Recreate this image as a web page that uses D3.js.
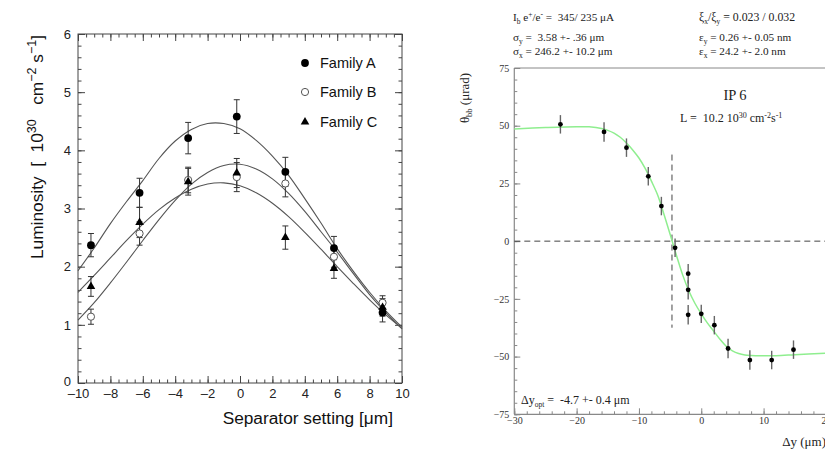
<!DOCTYPE html>
<html>
<head>
<meta charset="utf-8">
<script src="https://cdn.jsdelivr.net/npm/d3@7"></script>
<style>
  body { margin: 0; background: #fff; }
  svg { display: block; }
</style>
</head>
<body>
<div id="chart"></div>
<script>
// Left panel: luminosity vs separator setting
const sepX = [-9.2, -6.2, -3.2, -0.2, 2.8, 5.8, 8.8];
const lumA = [2.37, 3.27, 4.21, 4.58, 3.63, 2.32, 1.21];
const errA = [0.20, 0.25, 0.27, 0.29, 0.25, 0.20, 0.16];
const lumB = [1.14, 2.57, 3.49, 3.54, 3.43, 2.17, 1.38];
const errB = [0.13, 0.20, 0.22, 0.25, 0.23, 0.18, 0.12];
const lumC = [1.66, 2.76, 3.46, 3.61, 2.50, 1.97, 1.30];
const errC = [0.17, 0.26, 0.23, 0.25, 0.20, 0.17, 0.15];

// fitted curves at integer steps
const fitXL = [-10, -9, -8, -7, -6, -5, -4, -3, -2, -1, 0, 1, 2, 3, 4, 5, 6, 7, 8, 9, 10];
const fitA = [1.93, 2.32, 2.74, 3.12, 3.48, 3.86, 4.16, 4.36, 4.46, 4.46, 4.37, 4.17, 3.90, 3.57, 3.17, 2.75, 2.31, 1.92, 1.56, 1.24, 0.96];
const fitB = [1.08, 1.38, 1.72, 2.08, 2.45, 2.81, 3.14, 3.42, 3.62, 3.74, 3.76, 3.68, 3.51, 3.26, 2.95, 2.60, 2.25, 1.88, 1.52, 1.21, 0.93];
const fitC = [1.56, 1.85, 2.15, 2.45, 2.73, 2.98, 3.18, 3.33, 3.42, 3.44, 3.39, 3.27, 3.09, 2.86, 2.59, 2.30, 2.00, 1.71, 1.43, 1.17, 0.94];

const familyNames = ["Family A", "Family B", "Family C"];

// Right panel: beam-beam deflection scan
const dyX = [-22.6, -15.6, -12.0, -8.5, -6.4, -4.2, -2.1, -2.1, -2.1, 0.0, 2.1, 4.3, 7.8, 11.3, 14.8];
const theta = [50.6, 47.3, 40.5, 28.1, 15.2, -2.9, -14.1, -21.1, -31.9, -31.5, -36.4, -46.5, -51.5, -51.5, -47.0];
const thetaErr = [4.0, 4.2, 4.0, 4.0, 4.0, 4.0, 4.2, 4.2, 4.2, 4.0, 4.0, 4.2, 4.2, 4.0, 4.0];

const fitXR = [-30, -25, -20, -18, -16, -15, -14, -13, -12, -11, -10, -9, -8, -7, -6, -5, -4, -3, -2, -1, 0, 1, 2, 3, 4, 5, 6, 7, 8, 10, 12, 15, 20];
const fitTheta = [48.6, 49.2, 49.6, 49.5, 48.8, 48.0, 46.8, 45.0, 42.5, 39.5, 36.0, 31.5, 26.0, 20.0, 11.8, 3.0, -6.0, -14.5, -21.5, -27.0, -31.5, -35.5, -39.0, -42.5, -45.5, -47.5, -48.7, -49.3, -49.5, -49.6, -49.6, -49.2, -48.5];

const optDy = -4.7;

const W = 825, H = 453;
const svg = d3.select("#chart").append("svg").attr("width", W).attr("height", H);

// ---------- left panel ----------
const sans = "'Liberation Sans', Arial, sans-serif";
const xL = d3.scaleLinear().domain([-10, 10]).range([78, 402]);
const yL = d3.scaleLinear().domain([0, 6]).range([383, 34]);
const gL = svg.append("g").attr("font-family", sans);

const minorXL = d3.range(-10, 10.01, 0.5);
const majorXL = d3.range(-10, 10.01, 2);
const minorYL = d3.range(0, 6.01, 0.2);
const majorYL = d3.range(0, 6.01, 1);
const dashFmt = (d) => (d < 0 ? "\u2013" + Math.abs(d) : String(d));

function ticks(g, axis) {
  g.call(axis);
  g.select(".domain").remove();
  g.selectAll(".tick line").attr("stroke", "#444");
}

// minor + major ticks on all four sides, pointing inward
[[minorXL, 3.5, ""], [majorXL, 7, null]].forEach(([vals, len, fmt]) => {
  const b = gL.append("g").attr("transform", `translate(0,${yL(0)})`);
  ticks(b, d3.axisBottom(xL).tickValues(vals).tickSize(-len).tickPadding(6)
    .tickFormat(fmt === "" ? () => "" : dashFmt));
  const t = gL.append("g").attr("transform", `translate(0,${yL(6)})`);
  ticks(t, d3.axisTop(xL).tickValues(vals).tickSize(-len).tickFormat(() => ""));
});
[[minorYL, 3.5, ""], [majorYL, 7, null]].forEach(([vals, len, fmt]) => {
  const l = gL.append("g").attr("transform", `translate(${xL(-10)},0)`);
  ticks(l, d3.axisLeft(yL).tickValues(vals).tickSize(-len).tickPadding(7)
    .tickFormat(fmt === "" ? () => "" : d3.format("d")));
  const r = gL.append("g").attr("transform", `translate(${xL(10)},0)`);
  ticks(r, d3.axisRight(yL).tickValues(vals).tickSize(-len).tickFormat(() => ""));
  if (fmt === null) {
    l.selectAll(".tick").filter((d) => d === 0).select("text").attr("dy", "0.2em");
  }
});
gL.selectAll(".tick text").attr("font-size", 13).attr("fill", "#222").attr("font-family", sans);

gL.append("rect")
  .attr("x", xL(-10)).attr("y", yL(6))
  .attr("width", xL(10) - xL(-10)).attr("height", yL(0) - yL(6))
  .attr("fill", "none").attr("stroke", "#444").attr("stroke-width", 1);

const lineL = d3.line().x((d, i) => xL(fitXL[i])).y((d) => yL(d)).curve(d3.curveCatmullRom);
[fitA, fitB, fitC].forEach((f) => {
  gL.append("path").attr("d", lineL(f)).attr("fill", "none")
    .attr("stroke", "#555").attr("stroke-width", 1.1);
});

function errBars(vals, errs) {
  sepX.forEach((x, i) => {
    const cx = xL(x), y1 = yL(vals[i] + errs[i]), y2 = yL(vals[i] - errs[i]);
    const g = gL.append("g").attr("stroke", "#333").attr("stroke-width", 1);
    g.append("line").attr("x1", cx).attr("x2", cx).attr("y1", y1).attr("y2", y2);
    g.append("line").attr("x1", cx - 3).attr("x2", cx + 3).attr("y1", y1).attr("y2", y1);
    g.append("line").attr("x1", cx - 3).attr("x2", cx + 3).attr("y1", y2).attr("y2", y2);
  });
}
errBars(lumA, errA);
errBars(lumB, errB);
errBars(lumC, errC);

const triangle = d3.symbol().type(d3.symbolTriangle).size(32)();
function markers(vals, kind) {
  vals.forEach((v, i) => {
    const cx = xL(sepX[i]), cy = yL(v);
    if (kind === "A") {
      gL.append("circle").attr("cx", cx).attr("cy", cy).attr("r", 3.9).attr("fill", "#000");
    } else if (kind === "B") {
      gL.append("circle").attr("cx", cx).attr("cy", cy).attr("r", 3.6)
        .attr("fill", "#fff").attr("stroke", "#555").attr("stroke-width", 1);
    } else {
      gL.append("path").attr("d", triangle).attr("transform", `translate(${cx},${cy})`).attr("fill", "#000");
    }
  });
}
markers(lumB, "B");
markers(lumC, "C");
markers(lumA, "A");

// legend
const legY = [63, 92, 122];
familyNames.forEach((name, i) => {
  const cy = legY[i];
  if (i === 0) gL.append("circle").attr("cx", 305).attr("cy", cy).attr("r", 3.9).attr("fill", "#000");
  if (i === 1) gL.append("circle").attr("cx", 305).attr("cy", cy).attr("r", 3.6).attr("fill", "#fff").attr("stroke", "#555");
  if (i === 2) gL.append("path").attr("d", triangle).attr("transform", `translate(305,${cy})`).attr("fill", "#000");
  gL.append("text").attr("x", 320).attr("y", cy + 5).attr("font-size", 14.5).attr("fill", "#111").text(name);
});

// rich text: runs of [text, level] with level 0 = normal, 1 = sup, -1 = sub
function richText(sel, runs, small, shift) {
  let cur = 0;
  runs.forEach(([txt, lvl]) => {
    const sp = sel.append("tspan").text(txt).attr("dy", (cur - lvl) * shift);
    if (lvl !== 0) sp.attr("font-size", small);
    cur = lvl;
  });
}

// axis titles
gL.append("text").attr("x", 393).attr("y", 424).attr("text-anchor", "end")
  .attr("font-size", 17.3).attr("fill", "#111").text("Separator setting [\u03bcm]");

const yt = gL.append("text").attr("transform", "rotate(-90)")
  .attr("x", -35).attr("y", 43).attr("text-anchor", "end")
  .attr("font-size", 17.3).attr("fill", "#111").style("white-space", "pre");
richText(yt, [["Luminosity  [  10", 0], ["30", 1], ["   cm", 0], ["\u22122", 1], [" s", 0], ["\u22121", 1], ["]", 0]], 12.5, 7.5);

// ---------- right panel ----------
const serif = "'Liberation Serif', 'Times New Roman', serif";
const xR = d3.scaleLinear().domain([-30, 20]).range([514.3, 825.9]);
const yR = d3.scaleLinear().domain([-75, 75]).range([414.3, 68]);
const gR = svg.append("g").attr("font-family", serif);

const axisCol = "#888";
function ticksR(g, axis) {
  g.call(axis);
  g.select(".domain").remove();
  g.selectAll(".tick line").attr("stroke", axisCol);
  g.selectAll(".tick text").attr("font-size", 10).attr("fill", "#333").attr("font-family", serif);
}
const bR1 = gR.append("g").attr("transform", `translate(0,${yR(-75)})`);
ticksR(bR1, d3.axisBottom(xR).tickValues(d3.range(-30, 20.01, 2)).tickSize(-3).tickFormat(() => ""));
const bR2 = gR.append("g").attr("transform", `translate(0,${yR(-75)})`);
ticksR(bR2, d3.axisBottom(xR).tickValues(d3.range(-30, 20.01, 10)).tickSize(-6).tickPadding(3).tickFormat(d3.format("d")));
const lR1 = gR.append("g").attr("transform", `translate(${xR(-30)},0)`);
ticksR(lR1, d3.axisLeft(yR).tickValues(d3.range(-75, 75.01, 5)).tickSize(-3).tickFormat(() => ""));
const lR2 = gR.append("g").attr("transform", `translate(${xR(-30)},0)`);
ticksR(lR2, d3.axisLeft(yR).tickValues(d3.range(-75, 75.01, 25)).tickSize(-6).tickPadding(5).tickFormat(d3.format("d")));

gR.append("line").attr("x1", xR(-30)).attr("x2", xR(-30)).attr("y1", yR(75)).attr("y2", yR(-75))
  .attr("stroke", axisCol).attr("stroke-width", 1.2);
gR.append("line").attr("x1", xR(-30)).attr("x2", W).attr("y1", yR(-75)).attr("y2", yR(-75))
  .attr("stroke", axisCol).attr("stroke-width", 1.2);
gR.append("line").attr("x1", xR(-30)).attr("x2", W).attr("y1", yR(75)).attr("y2", yR(75))
  .attr("stroke", axisCol).attr("stroke-width", 1);

// dashed guides
gR.append("line").attr("x1", xR(-30)).attr("x2", W).attr("y1", yR(0)).attr("y2", yR(0))
  .attr("stroke", "#444").attr("stroke-dasharray", "6,4");
gR.append("line").attr("x1", xR(optDy)).attr("x2", xR(optDy)).attr("y1", yR(37.5)).attr("y2", yR(-37.5))
  .attr("stroke", "#444").attr("stroke-dasharray", "6,4");

const lineR = d3.line().x((d, i) => xR(fitXR[i])).y((d) => yR(d)).curve(d3.curveCatmullRom);
gR.append("path").attr("d", lineR(fitTheta)).attr("fill", "none")
  .attr("stroke", "#8fee8f").attr("stroke-width", 1.5);

dyX.forEach((x, i) => {
  gR.append("line").attr("x1", xR(x)).attr("x2", xR(x))
    .attr("y1", yR(theta[i] + thetaErr[i])).attr("y2", yR(theta[i] - thetaErr[i]))
    .attr("stroke", "#666").attr("stroke-width", 1.4);
  gR.append("circle").attr("cx", xR(x)).attr("cy", yR(theta[i])).attr("r", 2.4).attr("fill", "#000");
});

// texts
const tR = (x, y, size, anchor) => gR.append("text").attr("x", x).attr("y", y)
  .attr("font-size", size).attr("fill", "#222").attr("text-anchor", anchor || "start")
  .style("white-space", "pre");

richText(tR(513, 21, 11.2), [["I", 0], ["b", -0.6], [" e", 0], ["+", 1], ["/e", 0], ["-", 1], [" =  345/ 235 \u03bcA", 0]], 7.5, 4.5);
richText(tR(513, 41, 11.2), [["\u03c3", 0], ["y", -0.6], [" =  3.58 +- .36 \u03bcm", 0]], 7.5, 4.5);
richText(tR(513, 55, 11.2), [["\u03c3", 0], ["x", -0.6], [" = 246.2 +- 10.2 \u03bcm", 0]], 7.5, 4.5);
richText(tR(699, 21, 11.8), [["\u03be", 0], ["x", -0.6], ["/\u03be", 0], ["y", -0.6], [" = 0.023 / 0.032", 0]], 7.5, 4.5);
richText(tR(699, 41, 11.2), [["\u03b5", 0], ["y", -0.6], [" = 0.26 +- 0.05 nm", 0]], 7.5, 4.5);
richText(tR(699, 55, 11.2), [["\u03b5", 0], ["x", -0.6], [" = 24.2 +- 2.0 nm", 0]], 7.5, 4.5);

tR(735, 100, 14.5, "middle").text("IP 6");
richText(tR(680, 122, 12), [["L =  10.2 10", 0], ["30", 1], [" cm", 0], ["-2", 1], ["s", 0], ["-1", 1]], 8, 4.5);
richText(tR(521, 404, 12), [["\u0394y", 0], ["opt", -0.6], [" =  -4.7 +- 0.4 \u03bcm", 0]], 7.5, 4.5);

tR(826, 446, 13, "end").text("\u0394y (\u03bcm)");

const yRt = gR.append("text").attr("transform", "rotate(-90)")
  .attr("x", -98).attr("y", 469).attr("text-anchor", "middle")
  .attr("font-size", 13).attr("fill", "#222");
richText(yRt, [["\u03b8", 0], ["bb", -0.7], [" (\u03bcrad)", 0]], 8.5, 4.5);
</script>
</body>
</html>
